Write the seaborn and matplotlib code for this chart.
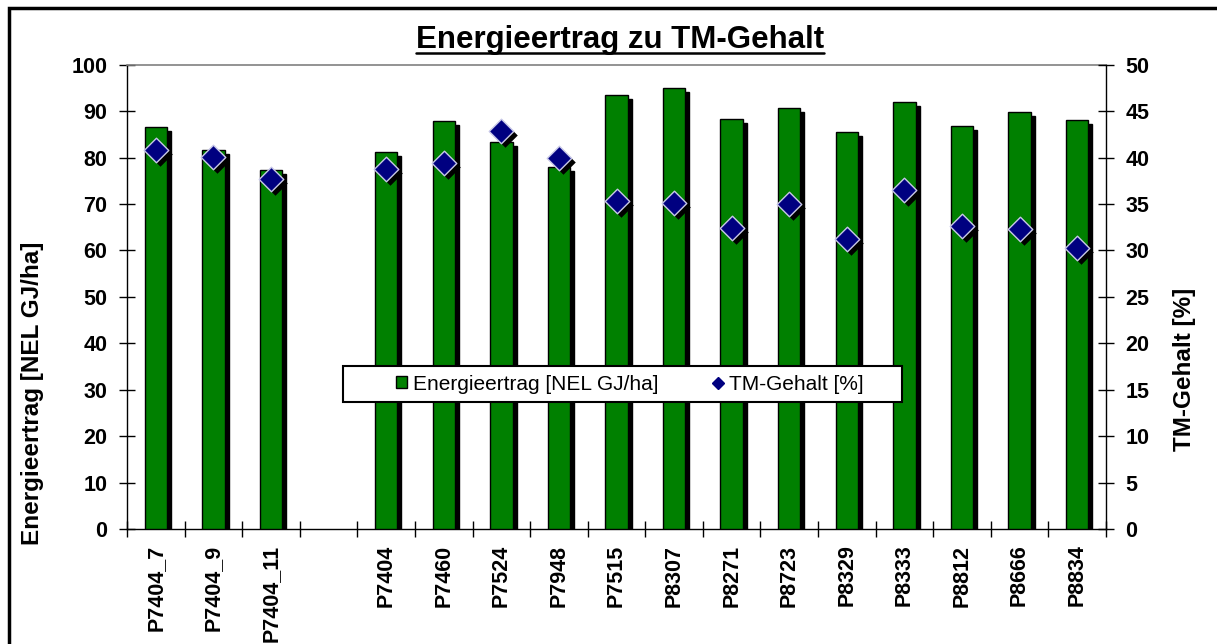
import numpy as np
import pandas as pd
import matplotlib
matplotlib.use("Agg")
import matplotlib.pyplot as plt
import seaborn as sns
from matplotlib.transforms import ScaledTranslation
from matplotlib.patches import Rectangle, Patch
from matplotlib.lines import Line2D

# ---------------- data ----------------
categories = ["P7404_7", "P7404_9", "P7404_11", "", "P7404", "P7460", "P7524",
              "P7948", "P7515", "P8307", "P8271", "P8723", "P8329", "P8333",
              "P8812", "P8666", "P8834"]
energy = [86.6, 81.6, 77.3, np.nan, 81.1, 87.8, 83.3, 78.0, 93.4, 95.0,
          88.2, 90.6, 85.5, 92.0, 86.8, 89.9, 88.0]
tm_content = [40.8, 40.1, 37.7, np.nan, 38.8, 39.4, 42.9, 40.0, 35.3, 35.1,
              32.4, 35.0, 31.2, 36.5, 32.6, 32.3, 30.3]
left_ticks = [0, 10, 20, 30, 40, 50, 60, 70, 80, 90, 100]
right_ticks = [0, 5, 10, 15, 20, 25, 30, 35, 40, 45, 50]
title = "Energieertrag zu TM-Gehalt"
label_energy = "Energieertrag [NEL GJ/ha]"
label_tm = "TM-Gehalt [%]"

df = pd.DataFrame({"Sorte": categories, "energy": energy, "tm": tm_content})

# ---------------- style ----------------
sns.set_theme(style="white")
plt.rcParams['font.family'] = ['Liberation Sans', 'DejaVu Sans']
plt.rcParams['text.color'] = 'black'
plt.rcParams['xtick.color'] = 'black'
plt.rcParams['ytick.color'] = 'black'
plt.rcParams['axes.labelcolor'] = 'black'

W, H = 1217, 644
fig = plt.figure(figsize=(W / 100, H / 100), dpi=100)
ax = fig.add_axes([127 / W, 1 - 529.3 / H, (1106 - 127) / W, (529.3 - 64.6) / H])

GREEN = "#008000"
NAVY = "#000080"
shadow = ScaledTranslation(4 / 100, -4 / 100, fig.dpi_scale_trans)

# bar shadows
sns.barplot(data=df, x="Sorte", y="energy", order=categories, color="black",
            saturation=1, width=0.39, errorbar=None, ax=ax, zorder=2)
for p in ax.patches:
    p.set_transform(ax.transData + shadow)
    p.set_edgecolor("black")
# bars
sns.barplot(data=df, x="Sorte", y="energy", order=categories, color=GREEN,
            saturation=1, width=0.39, errorbar=None, ax=ax, zorder=3,
            edgecolor="black", linewidth=1)

ax2 = ax.twinx()
# diamond shadows
sns.stripplot(data=df, x="Sorte", y="tm", order=categories, jitter=False,
              marker="D", size=12.5, color="black", linewidth=0, ax=ax2, zorder=3)
for c in ax2.collections:
    c.set_offset_transform(ax2.transData + shadow)
sns.stripplot(data=df, x="Sorte", y="tm", order=categories, jitter=False,
              marker="D", size=12.5, color=NAVY, edgecolor="#c8c8e8",
              linewidth=1, ax=ax2, zorder=4)

# ---------------- axes ----------------
ax.set_xlim(-0.5, len(categories) - 0.5)
ax.set_ylim(0, 100)
ax2.set_ylim(0, 50)
ax.set_xlabel("")
ax.set_ylabel("")
ax2.set_xlabel("")
ax2.set_ylabel("")

ax.set_xticks(np.arange(len(categories)))
ax.set_xticklabels(categories, rotation=90, fontsize=15.5, fontweight="bold")
ax.set_xticks(np.arange(-0.5, len(categories), 1), minor=True)
ax.tick_params(axis="x", which="major", length=0, pad=11, bottom=True)
ax.tick_params(axis="x", which="minor", length=12, width=1, direction="inout",
               color="black", bottom=True)
ax.set_yticks(left_ticks)
ax.set_yticklabels([str(v) for v in left_ticks], fontsize=15.5, fontweight="bold")
ax.tick_params(axis="y", which="major", length=12, width=1, direction="inout",
               color="black", left=True, pad=8)
ax2.set_yticks(right_ticks)
ax2.set_yticklabels([str(v) for v in right_ticks], fontsize=15.5, fontweight="bold")
ax2.tick_params(axis="y", which="major", length=12, width=1, direction="inout",
                color="black", right=True, pad=8)

for s in ["left", "bottom"]:
    ax.spines[s].set_color("black")
    ax.spines[s].set_linewidth(1)
ax.spines["top"].set_color("#808080")
ax.spines["top"].set_linewidth(1.2)
ax.spines["right"].set_visible(False)
for s in ["top", "left", "bottom"]:
    ax2.spines[s].set_visible(False)
ax2.spines["right"].set_color("black")
ax2.spines["right"].set_linewidth(1)
ax.grid(False)
ax2.grid(False)

# axis labels
fig.text(33 / W, 1 - 393 / H, label_energy, rotation=90, ha="center",
         va="center", fontsize=17.5, fontweight="bold")
fig.text(1184 / W, 1 - 369 / H, label_tm, rotation=90, ha="center",
         va="center", fontsize=17.5, fontweight="bold")

# title with underline
t = fig.text(620 / W, 1 - 48 / H, title, ha="center", va="baseline",
             fontsize=22.5, fontweight="bold")
fig.canvas.draw()
bb = t.get_window_extent()
fig.add_artist(Line2D([bb.x0 / W, bb.x1 / W], [1 - 53 / H, 1 - 53 / H],
                      transform=fig.transFigure, color="black", lw=1.8))

# outer frame (cropped at right/bottom)
fig.add_artist(Rectangle((9 / W, -0.1), 1.2, 1 - 8 / H + 0.1, fill=False,
                         edgecolor="black", lw=2.5, transform=fig.transFigure))

# legend
box = Rectangle((343 / W, 1 - 402 / H), (902 - 343) / W, (402 - 366) / H,
                facecolor="white", edgecolor="black", lw=1.5,
                transform=fig.transFigure, zorder=10)
ax2.add_artist(box)
handles = [Patch(facecolor=GREEN, edgecolor="black", linewidth=1),
           Line2D([], [], marker="D", linestyle="", color=NAVY, markersize=6)]
leg = ax2.legend(handles, [label_energy, label_tm], ncol=2, loc="center left",
                 bbox_to_anchor=(396 / W, 1 - 384 / H),
                 bbox_transform=fig.transFigure, frameon=False, fontsize=15,
                 handlelength=0.55, handleheight=0.55, handletextpad=0.25,
                 columnspacing=2.6, borderpad=0, borderaxespad=0)
leg.set_zorder(20)

fig.savefig("out.png", dpi=100)
